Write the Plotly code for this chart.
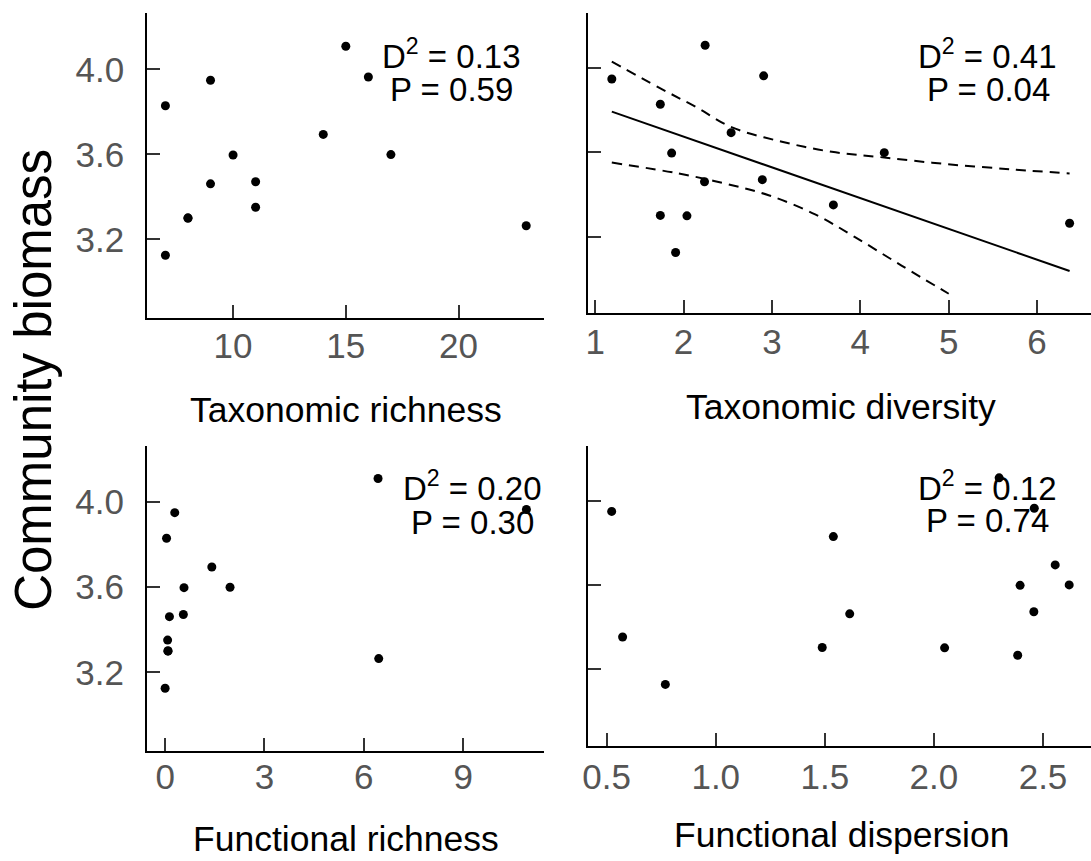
import plotly.graph_objects as go

W, H = 1091, 861

# ---------------- data ----------------
biomass = [4.109, 3.964, 3.949, 3.829, 3.694, 3.597, 3.599, 3.471, 3.461, 3.351, 3.301, 3.299, 3.264, 3.125]

tax_richness = [15, 16, 9, 7, 14, 10, 17, 11, 9, 11, 8, 8, 23, 7]
tax_diversity = [2.244, 2.906, 1.188, 1.737, 2.538, 1.865, 4.271, 2.891, 2.237, 3.695, 1.737, 2.038, 6.368, 1.910]
fun_richness = [6.43, 10.91, 0.29, 0.043, 1.41, 0.57, 1.96, 0.55, 0.13, 0.075, 0.086, 0.086, 6.45, 0.0]
fun_dispersion = [2.299, 2.46, 0.523, 1.539, 2.556, 2.395, 2.62, 2.458, 1.614, 0.573, 1.488, 2.049, 2.384, 0.769]

# fitted model for taxonomic diversity (fit and confidence band)
fit_x = [1.188, 2.0, 3.0, 4.0, 5.0, 6.368]
fit_y = [3.794, 3.675, 3.529, 3.383, 3.237, 3.037]
upper_x = [1.188, 1.722, 2.135, 2.549, 3.113, 3.677, 4.271, 4.992, 5.744, 6.368]
upper_y = [4.032, 3.908, 3.817, 3.719, 3.651, 3.603, 3.576, 3.544, 3.519, 3.500]
lower_x = [1.188, 1.947, 2.474, 2.962, 3.489, 3.940, 4.466, 5.0]
lower_y = [3.552, 3.500, 3.452, 3.397, 3.306, 3.198, 3.063, 2.929]

x_titles = ["Taxonomic richness", "Taxonomic diversity", "Functional richness", "Functional dispersion"]
d2_values = ["0.13", "0.41", "0.20", "0.12"]
p_values = ["0.59", "0.04", "0.30", "0.74"]
y_title = "Community biomass"

y_ticks = [3.2, 3.6, 4.0]
x_ticks = [[10, 15, 20], [1, 2, 3, 4, 5, 6], [0, 3, 6, 9], [0.5, 1.0, 1.5, 2.0, 2.5]]
x_tickfmt = ["d", "d", "d", ".1f"]

# ---------------- layout geometry (pixels) ----------------
def fx(p):
    return p / W

def fy(p):
    return 1 - p / H

# (left, right, top, bottom) in px
boxes = [
    (142, 541, 13.3, 317.7),
    (585.7, 1091, 13.3, 312.7),
    (141.7, 540.6, 445.7, 750.7),
    (585.7, 1091, 445.7, 745.7),
]
x_ranges = [[6.193, 23.79], [0.924, 6.61], [-0.55, 11.43], [0.4166, 2.72]]
y_ranges = [[2.831, 4.264], [2.839, 4.261], [2.832, 4.263], [2.833, 4.262]]
x_standoff = [-4, -3, -6, -1]

FONT = "Liberation Sans, Arial, Helvetica, sans-serif"
fig = go.Figure()

xs_all = [tax_richness, tax_diversity, fun_richness, fun_dispersion]
for i in range(4):
    sfx = "" if i == 0 else str(i + 1)
    fig.add_trace(go.Scatter(
        x=xs_all[i], y=biomass, mode="markers",
        marker=dict(color="black", size=9, line=dict(width=0)),
        xaxis="x" + sfx, yaxis="y" + sfx, showlegend=False, hoverinfo="x+y"))

fig.add_trace(go.Scatter(x=fit_x, y=fit_y, mode="lines",
                         line=dict(color="black", width=2),
                         xaxis="x2", yaxis="y2", showlegend=False))
fig.add_trace(go.Scatter(x=upper_x, y=upper_y, mode="lines", line_shape="spline",
                         line=dict(color="black", width=2, dash="10px,7px"),
                         xaxis="x2", yaxis="y2", showlegend=False))
fig.add_trace(go.Scatter(x=lower_x, y=lower_y, mode="lines", line_shape="spline",
                         line=dict(color="black", width=2, dash="10px,7px"),
                         xaxis="x2", yaxis="y2", showlegend=False))

axis_common = dict(showline=True, linecolor="black", linewidth=2,
                   ticks="inside", ticklen=13, tickwidth=1.5, tickcolor="#333333",
                   showgrid=False, zeroline=False,
                   tickfont=dict(family=FONT, size=35, color="#555555"))

layout = dict(width=W, height=H, margin=dict(l=0, r=0, t=0, b=0),
              paper_bgcolor="white", plot_bgcolor="white", showlegend=False,
              font=dict(family=FONT, color="black"))

annotations = []
for i in range(4):
    sfx = "" if i == 0 else str(i + 1)
    l, r, t, b = boxes[i]
    layout["xaxis" + sfx] = dict(axis_common, domain=[fx(l), fx(r)], range=x_ranges[i],
                                 tickvals=x_ticks[i], tickformat=x_tickfmt[i],
                                 anchor="y" + sfx, ticklabelstandoff=x_standoff[i])
    layout["yaxis" + sfx] = dict(axis_common, domain=[fy(b), fy(t)], range=y_ranges[i],
                                 tickvals=y_ticks, tickformat=".1f",
                                 showticklabels=(i % 2 == 0),
                                 anchor="x" + sfx, ticklabelstandoff=14)

# axis titles
title_pos = [(341.5, 410), (840, 406.5), (341.8, 839), (840, 835)]
for i in range(4):
    annotations.append(dict(text=x_titles[i], x=fx(title_pos[i][0]), y=fy(title_pos[i][1]),
                            xref="paper", yref="paper", xanchor="center", yanchor="middle",
                            showarrow=False, font=dict(family=FONT, size=35.5, color="black")))

# statistics text
d_pos = [(448, 53.7), (986.5, 53.7), (469.5, 486.2), (986.5, 485.7)]
p_pos = [(448, 89.5), (987.5, 89.8), (469.5, 522.3), (986.5, 520.7)]
for i in range(4):
    annotations.append(dict(text="D<sup>2</sup> = " + d2_values[i],
                            x=fx(d_pos[i][0]), y=fy(d_pos[i][1]),
                            xref="paper", yref="paper", xanchor="center", yanchor="middle",
                            showarrow=False, font=dict(family=FONT, size=33, color="black")))
    annotations.append(dict(text="P = " + p_values[i],
                            x=fx(p_pos[i][0]), y=fy(p_pos[i][1]),
                            xref="paper", yref="paper", xanchor="center", yanchor="middle",
                            showarrow=False, font=dict(family=FONT, size=33, color="black")))

annotations.append(dict(text=y_title, x=fx(28), y=fy(380), xref="paper", yref="paper",
                        xanchor="center", yanchor="middle", textangle=-90, showarrow=False,
                        font=dict(family=FONT, size=51, color="black")))

layout["annotations"] = annotations
fig.update_layout(**layout)
fig.write_html("out.html", config={"displayModeBar": False},
               post_script="document.body.style.margin='0';document.body.style.overflow='hidden';")
